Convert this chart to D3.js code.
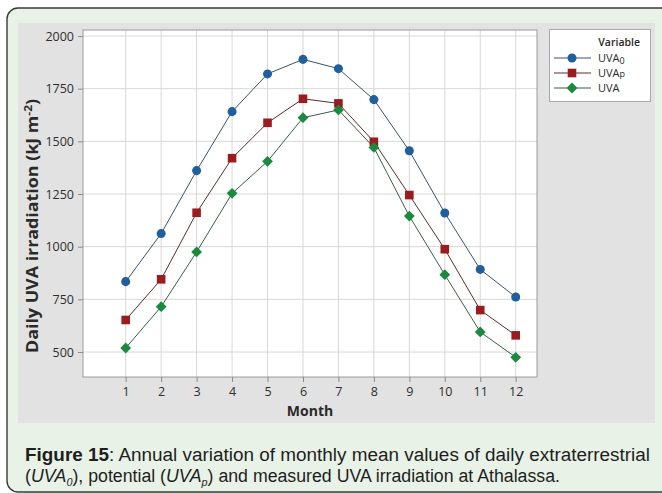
<!DOCTYPE html>
<html>
<head>
<meta charset="utf-8">
<script src="https://cdn.jsdelivr.net/npm/d3@7/dist/d3.min.js"></script>
<style>
  html, body { margin: 0; padding: 0; background: #ffffff; }
  svg { display: block; }
</style>
</head>
<body>
<svg id="fig" width="662" height="493"></svg>
<script>
// Monthly mean daily UVA irradiation (kJ m^-2), Athalassa
const months = [1, 2, 3, 4, 5, 6, 7, 8, 9, 10, 11, 12];
const uva0 = [834, 1062, 1361, 1641, 1820, 1889, 1845, 1698, 1455, 1160, 892, 761];
const uvaP = [652, 845, 1161, 1420, 1588, 1702, 1680, 1498, 1245, 988, 699, 579];
const uvaM = [519, 715, 975, 1253, 1405, 1612, 1649, 1471, 1145, 867, 595, 475];
const yTicks = [500, 750, 1000, 1250, 1500, 1750, 2000];
const seriesNames = ["UVA0", "UVAp", "UVA"];

const svg = d3.select("#fig");
const font = "'Open Sans', 'Noto Sans', sans-serif";

// outer figure frame
svg.append("rect")
  .attr("x", 7).attr("y", 8).attr("width", 680).attr("height", 484)
  .attr("rx", 11).attr("ry", 11)
  .attr("fill", "#e9f2e7").attr("stroke", "#3a3a3a").attr("stroke-width", 1.4);

// chart panel
svg.append("rect")
  .attr("x", 18).attr("y", 23).attr("width", 637).attr("height", 400)
  .attr("fill", "#e2e2e2");

const plot = { left: 83, right: 537, top: 30, bottom: 377 };

const x = d3.scaleLinear().domain([1, 12]).range([125.7, 515.7]);
const y = d3.scaleLinear().domain([500, 2000]).range([352, 36]);

// plot background
svg.append("rect")
  .attr("x", plot.left).attr("y", plot.top)
  .attr("width", plot.right - plot.left).attr("height", plot.bottom - plot.top)
  .attr("fill", "#ffffff");

// gridlines
const grid = svg.append("g").attr("stroke", "#d8d8d8").attr("stroke-width", 1);
grid.selectAll("line.v").data(months).join("line")
  .attr("x1", d => x(d)).attr("x2", d => x(d))
  .attr("y1", plot.top).attr("y2", plot.bottom);
grid.selectAll("line.h").data(yTicks).join("line")
  .attr("x1", plot.left).attr("x2", plot.right)
  .attr("y1", d => y(d)).attr("y2", d => y(d));

// plot border
svg.append("rect")
  .attr("x", plot.left).attr("y", plot.top)
  .attr("width", plot.right - plot.left).attr("height", plot.bottom - plot.top)
  .attr("fill", "none").attr("stroke", "#9a9a9a").attr("stroke-width", 1);

// axes
const xAxis = d3.axisBottom(x).tickValues(months).tickSize(5).tickPadding(5).tickFormat(d3.format("d"));
const yAxis = d3.axisLeft(y).tickValues(yTicks).tickSize(5).tickPadding(4).tickFormat(d3.format("d"));

const gx = svg.append("g").attr("transform", `translate(0,${plot.bottom})`).call(xAxis);
const gy = svg.append("g").attr("transform", `translate(${plot.left},0)`).call(yAxis);
[gx, gy].forEach(g => {
  g.select(".domain").remove();
  g.selectAll(".tick line").attr("stroke", "#8a8a8a");
  g.selectAll(".tick text").attr("fill", "#2e2e2e")
    .style("font-family", font).style("font-size", "12.5px");
});

// axis titles
svg.append("text")
  .attr("x", (plot.left + plot.right) / 2).attr("y", 416)
  .attr("text-anchor", "middle")
  .style("font-family", font).style("font-size", "14px").style("font-weight", "700")
  .attr("fill", "#2a2a2a").text("Month");

const yt = svg.append("text")
  .attr("transform", "translate(38,226) rotate(-90)")
  .attr("text-anchor", "middle")
  .attr("textLength", 254).attr("lengthAdjust", "spacingAndGlyphs")
  .style("font-family", font).style("font-size", "16.5px").style("font-weight", "700")
  .attr("fill", "#2a2a2a");
yt.append("tspan").text("Daily UVA irradiation (kJ m");
yt.append("tspan").attr("dy", -6).style("font-size", "11px").text("-2");
yt.append("tspan").attr("dy", 6).text(")");

// series
const colors = ["#1f5f9e", "#9b1c1f", "#1b8a3e"];
const lineColors = ["#3b5368", "#5e2b2b", "#3a5e45"];
const data = [uva0, uvaP, uvaM];

const line = d3.line().x((d, i) => x(months[i])).y(d => y(d));

const symbolFor = [d3.symbolCircle, d3.symbolSquare, d3.symbolSquare];
const symbolSize = [64, 74, 58];
const symbolRot = [0, 0, 45];

data.forEach((vals, k) => {
  svg.append("path")
    .datum(vals)
    .attr("d", line)
    .attr("fill", "none")
    .attr("stroke", lineColors[k])
    .attr("stroke-width", 1);
});
data.forEach((vals, k) => {
  const sym = d3.symbol().type(symbolFor[k]).size(symbolSize[k]);
  svg.append("g").selectAll("path").data(vals).join("path")
    .attr("transform", (d, i) => `translate(${x(months[i])},${y(d)}) rotate(${symbolRot[k]})`)
    .attr("d", sym)
    .attr("fill", colors[k]);
});

// legend
const lg = svg.append("g");
lg.append("rect")
  .attr("x", 549.5).attr("y", 29.5).attr("width", 101).attr("height", 72)
  .attr("fill", "#ffffff").attr("stroke", "#a8a8a8").attr("stroke-width", 1);
lg.append("text")
  .attr("x", 640).attr("y", 46).attr("text-anchor", "end")
  .style("font-family", font).style("font-size", "10.5px").style("font-weight", "600")
  .attr("fill", "#2a2a2a").text("Variable");

const legendRows = [58, 73, 88];
seriesNames.forEach((name, k) => {
  const ly = legendRows[k];
  lg.append("line")
    .attr("x1", 554).attr("x2", 591).attr("y1", ly).attr("y2", ly)
    .attr("stroke", lineColors[k]).attr("stroke-width", 1.2);
  lg.append("path")
    .attr("transform", `translate(572,${ly}) rotate(${symbolRot[k]})`)
    .attr("d", d3.symbol().type(symbolFor[k]).size(symbolSize[k])())
    .attr("fill", colors[k]);
  const t = lg.append("text")
    .attr("x", 598).attr("y", ly + 4)
    .style("font-family", font).style("font-size", "11px")
    .attr("fill", "#2a2a2a");
  t.append("tspan").text("UVA");
  if (name !== "UVA") {
    t.append("tspan").attr("dy", name === "UVA0" ? 2 : 0)
      .style("font-size", "9px").text(name.slice(3));
  }
});

// caption
const cap = svg.append("g")
  .style("font-family", "'Liberation Sans', Arial, sans-serif")
  .style("font-size", "18px")
  .attr("fill", "#1e1e1e");
const c1 = cap.append("text").attr("x", 25).attr("y", 461)
  .attr("textLength", 625).attr("lengthAdjust", "spacingAndGlyphs");
c1.append("tspan").style("font-weight", "700").text("Figure 15");
c1.append("tspan").text(": Annual variation of monthly mean values of daily extraterrestrial");
const c2 = cap.append("text").attr("x", 25).attr("y", 482)
  .attr("textLength", 535).attr("lengthAdjust", "spacingAndGlyphs");
c2.append("tspan").text("(");
c2.append("tspan").style("font-style", "italic").text("UVA");
c2.append("tspan").attr("dy", 4).style("font-style", "italic").style("font-size", "11px").text("0");
c2.append("tspan").attr("dy", -4).text("), potential (");
c2.append("tspan").style("font-style", "italic").text("UVA");
c2.append("tspan").attr("dy", 4).style("font-style", "italic").style("font-size", "11px").text("p");
c2.append("tspan").attr("dy", -4).text(") and measured UVA irradiation at Athalassa.");
</script>
</body>
</html>
